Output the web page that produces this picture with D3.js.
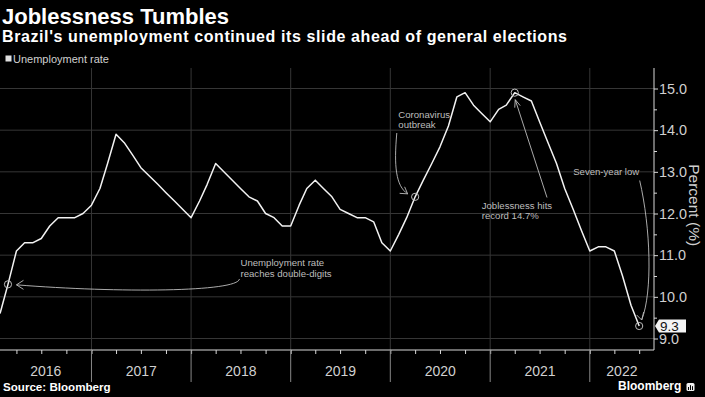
<!DOCTYPE html>
<html lang="en">
<head>
<meta charset="utf-8">
<title>Joblessness Tumbles</title>
<script src="https://cdnjs.cloudflare.com/ajax/libs/d3/7.8.5/d3.min.js"></script>
<style>
  html, body { margin: 0; padding: 0; background: #000; }
  svg { display: block; font-family: "Liberation Sans", Arial, sans-serif; }
</style>
</head>
<body>
<div id="chart"></div>
<script>
// monthly rolling-quarter unemployment rate, Jan 2016 .. Jun 2022
const firstMonth = new Date(2016, 0, 1);
const rates = [
  9.6, 10.3, 11.1, 11.3, 11.3, 11.4, 11.7, 11.9, 11.9, 11.9, 12.0, 12.2,
  12.6, 13.2, 13.9, 13.7, 13.4, 13.1, 12.9, 12.7, 12.5, 12.3, 12.1, 11.9,
  12.3, 12.7, 13.2, 13.0, 12.8, 12.6, 12.4, 12.3, 12.0, 11.9, 11.7, 11.7,
  12.2, 12.6, 12.8, 12.6, 12.4, 12.1, 12.0, 11.9, 11.9, 11.8, 11.3, 11.1,
  11.5, 11.9, 12.4, 12.8, 13.2, 13.6, 14.1, 14.8, 14.9, 14.6, 14.4, 14.2,
  14.5, 14.6, 14.9, 14.8, 14.7, 14.2, 13.7, 13.2, 12.6, 12.1, 11.6, 11.1,
  11.2, 11.2, 11.1, 10.5, 9.8, 9.3
];
const years = [2016, 2017, 2018, 2019, 2020, 2021, 2022];
const yTicks = [9, 10, 11, 12, 13, 14, 15];
const yMinor = [9.5, 10.5, 11.5, 12.5, 13.5, 14.5];

// each reading is plotted at the end of its month
const data = rates.map((v, i) => ({date: d3.timeMonth.offset(firstMonth, i + 1), value: v}));

const w = 705, h = 397;
const plotLeft = 0, plotRight = 654, plotTop = 68, plotBottom = 350;
const grid = "#363636", axisCol = "#d8d8d8", textCol = "#d0d0d0", noteCol = "#bdbdbd";

const xScale = d3.scaleTime()
  .domain([new Date(2016, 0, 1), new Date(2023, 0, 1)])
  .range([-8.4, 689.4]);
const yScale = d3.scaleLinear()
  .domain([9, 15])
  .range([338.5, 88.5]);

const svg = d3.select("#chart").append("svg")
  .attr("width", w)
  .attr("height", h);

svg.append("rect").attr("width", w).attr("height", h).attr("fill", "#000");

// titles
svg.append("text").attr("x", 2).attr("y", 24)
  .attr("fill", "#fff").attr("font-weight", "bold").attr("font-size", 22)
  .text("Joblessness Tumbles");
svg.append("text").attr("x", 2).attr("y", 42)
  .attr("fill", "#fff").attr("font-weight", "bold").attr("font-size", 16)
  .attr("letter-spacing", 0.6)
  .text("Brazil's unemployment continued its slide ahead of general elections");

// legend
svg.append("rect").attr("x", 5.5).attr("y", 55.5).attr("width", 6).attr("height", 6).attr("fill", "#e0e0e0");
svg.append("text").attr("x", 13).attr("y", 62.5)
  .attr("fill", textCol).attr("font-size", 11)
  .text("Unemployment rate");

// gridlines
const yearStarts = years.slice(1).map(y => new Date(y, 0, 1));
svg.append("g").selectAll("line")
  .data(yTicks).enter().append("line")
  .attr("x1", plotLeft).attr("x2", plotRight)
  .attr("y1", d => yScale(d)).attr("y2", d => yScale(d))
  .attr("stroke", grid).attr("stroke-width", 1);
svg.append("g").selectAll("line")
  .data(yearStarts).enter().append("line")
  .attr("x1", d => xScale(d)).attr("x2", d => xScale(d))
  .attr("y1", plotTop).attr("y2", plotBottom)
  .attr("stroke", grid).attr("stroke-width", 1);

// x axis: quarter ticks, year separators, year labels
const quarters = d3.timeMonth.every(3).range(new Date(2016, 0, 1), new Date(2023, 0, 1))
  .filter(d => xScale(d) > plotLeft && xScale(d) < plotRight);
const xAxis = d3.axisBottom(xScale).tickValues(quarters).tickSize(4).tickFormat("");
const gx = svg.append("g")
  .attr("transform", "translate(0," + plotBottom + ")")
  .call(xAxis);
gx.select(".domain").remove();
gx.selectAll(".tick line").attr("stroke", axisCol);
svg.append("line")
  .attr("x1", plotLeft).attr("x2", plotRight)
  .attr("y1", plotBottom).attr("y2", plotBottom)
  .attr("stroke", axisCol);
svg.append("g").selectAll("line")
  .data(yearStarts).enter().append("line")
  .attr("x1", d => xScale(d)).attr("x2", d => xScale(d))
  .attr("y1", plotBottom).attr("y2", 382)
  .attr("stroke", "#888");
svg.append("g").selectAll("text")
  .data(years).enter().append("text")
  .attr("x", y => {
    const a = Math.max(plotLeft, xScale(new Date(y, 0, 1)));
    const b = Math.min(plotRight, xScale(new Date(y + 1, 0, 1)));
    return (a + b) / 2;
  })
  .attr("y", 376)
  .attr("text-anchor", "middle")
  .attr("fill", textCol).attr("font-size", 14)
  .text(d => d);

// y axis on the right
const gy = svg.append("g")
  .attr("transform", "translate(" + plotRight + ",0)")
  .call(d3.axisRight(yScale).tickValues(yTicks).tickSize(4).tickPadding(1).tickFormat(d3.format(".1f")));
gy.select(".domain").remove();
gy.selectAll(".tick line").attr("stroke", axisCol);
gy.selectAll(".tick text").attr("fill", textCol).attr("font-size", 14.4)
  .attr("font-family", "'Liberation Sans', Arial, sans-serif");
const gyMinor = svg.append("g")
  .attr("transform", "translate(" + plotRight + ",0)")
  .call(d3.axisRight(yScale).tickValues(yMinor).tickSize(3).tickFormat(""));
gyMinor.select(".domain").remove();
gyMinor.selectAll(".tick line").attr("stroke", axisCol);
svg.append("line")
  .attr("x1", plotRight).attr("x2", plotRight)
  .attr("y1", plotTop).attr("y2", plotBottom)
  .attr("stroke", axisCol);
svg.append("text")
  .attr("transform", "translate(689," + yScale(12.2) + ") rotate(90)")
  .attr("text-anchor", "middle")
  .attr("fill", textCol).attr("font-size", 15.5)
  .text("Percent (%)");

// the series
const line = d3.line()
  .x(d => xScale(d.date))
  .y(d => yScale(d.value));
svg.append("path")
  .datum(data)
  .attr("d", line)
  .attr("fill", "none")
  .attr("stroke", "#f2f2f2")
  .attr("stroke-width", 1.5)
  .attr("stroke-linejoin", "round");

// annotations
function pt(i) { return [xScale(data[i].date), yScale(data[i].value)]; }
function circle(i) {
  const p = pt(i);
  svg.append("circle").attr("cx", p[0]).attr("cy", p[1]).attr("r", 3.6)
    .attr("fill", "none").attr("stroke", noteCol).attr("stroke-width", 1);
}
function note(x, y, lines) {
  svg.append("text").attr("x", x).attr("y", y)
    .attr("fill", noteCol).attr("font-size", 9.6)
    .selectAll("tspan").data(lines).enter().append("tspan")
    .attr("x", x).attr("dy", (d, i) => i ? 10.5 : 0)
    .text(d => d);
}
function connector(d, head) {
  svg.append("path").attr("d", d).attr("fill", "none")
    .attr("stroke", noteCol).attr("stroke-width", 0.9);
  svg.append("path").attr("d", head).attr("fill", "none")
    .attr("stroke", noteCol).attr("stroke-width", 0.9);
}

// Feb 2016: double digits
circle(1);
{
  const p = pt(1);
  const tx = xScale(new Date(2018, 6, 1));
  note(tx, 266, ["Unemployment rate", "reaches double-digits"]);
  const s = [tx - 1, 279], e = [p[0] + 8.5, p[1] + 0.5];
  connector(`M${s[0]},${s[1]} C${s[0] - 2},292 ${s[0] - 120},293 ${e[0]},${e[1]}`,
    `M${e[0] + 7},${e[1] - 4.5} L${e[0]},${e[1]} L${e[0] + 7},${e[1] + 4.5}`);
}

// Mar 2020: coronavirus
circle(50);
{
  const p = pt(50);
  const tx = xScale(new Date(2020, 0, 1)) + 8;
  note(tx, 117.5, ["Coronavirus", "outbreak"]);
  const s = [tx - 1.5, 133], e = [p[0] - 7.5, p[1] - 3];
  connector(`M${s[0]},${s[1]} C${s[0] - 3},166 ${s[0] - 1},186 ${e[0]},${e[1]}`,
    `M${e[0] - 8},${e[1] - 0.5} L${e[0]},${e[1]} L${e[0] - 3},${e[1] - 7}`);
}

// Mar 2021: record
circle(62);
{
  const p = pt(62);
  const tx = xScale(new Date(2020, 11, 1));
  note(tx, 208.5, ["Joblessness hits", "record 14.7%"]);
  const s = [547, 197.5], e = [p[0] + 0.5, p[1] + 7];
  connector(`M${s[0]},${s[1]} L${e[0]},${e[1]}`,
    `M${e[0] - 0.5},${e[1] + 8} L${e[0]},${e[1]} L${e[0] + 5},${e[1] + 6}`);
}

// Jun 2022: seven-year low
circle(77);
{
  const p = pt(77);
  const tx = xScale(new Date(2021, 10, 1));
  note(tx, 175, ["Seven-year low"]);
  const s = [p[0] + 0.5, 180.5], e = [p[0] + 2.5, p[1] - 6];
  connector(`M${s[0]},${s[1]} C${s[0] + 11},228 ${s[0] + 13},292 ${e[0]},${e[1]}`,
    `M${e[0] - 5},${e[1] - 5} L${e[0]},${e[1]} L${e[0] + 2},${e[1] - 8}`);
}

// last value tag
{
  const last = data[data.length - 1];
  const ty = yScale(last.value);
  svg.append("path")
    .attr("d", `M${plotRight + 1},${ty} L${plotRight + 5},${ty - 6.5} L${plotRight + 32},${ty - 6.5} L${plotRight + 32},${ty + 6.5} L${plotRight + 5},${ty + 6.5} Z`)
    .attr("fill", "#f4f4f4");
  svg.append("text").attr("x", plotRight + 6).attr("y", ty + 4.6)
    .attr("fill", "#111").attr("font-size", 13.5)
    .text(d3.format(".1f")(last.value));
}

// footer
svg.append("text").attr("x", 3).attr("y", 391)
  .attr("fill", "#fff").attr("font-weight", "bold").attr("font-size", 11.6)
  .text("Source: Bloomberg");
svg.append("text").attr("x", 618).attr("y", 390)
  .attr("fill", "#fff").attr("font-weight", "bold").attr("font-size", 12)
  .text("Bloomberg");
const logo = svg.append("g").attr("transform", "translate(686.5,383)");
logo.append("rect").attr("width", 8).attr("height", 8).attr("rx", 1.5).attr("fill", "#f0f0f0");
logo.selectAll("line.bar").data([[2, 4], [4, 2.2], [6, 3.2]]).enter().append("line")
  .attr("x1", d => d[0]).attr("x2", d => d[0])
  .attr("y1", d => d[1]).attr("y2", 7)
  .attr("stroke", "#000").attr("stroke-width", 1);
</script>
</body>
</html>
